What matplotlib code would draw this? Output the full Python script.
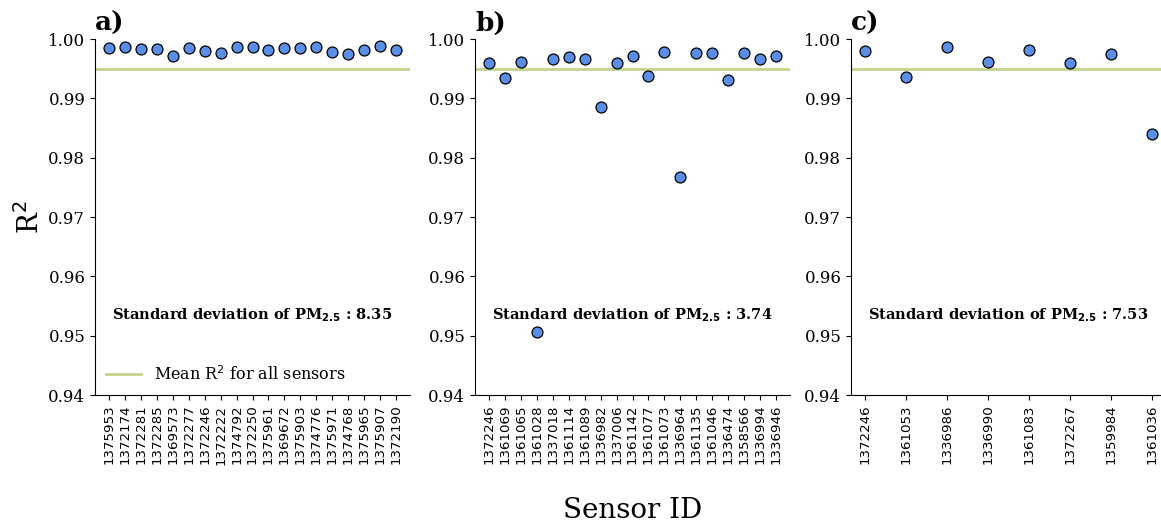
import matplotlib
matplotlib.use("Agg")
import matplotlib.pyplot as plt

# sensor ids and R^2 per panel
ids_a = ["1375953", "1372174", "1372281", "1372285", "1369573", "1372277", "1372246",
         "1372222", "1374792", "1372250", "1375961", "1369672", "1375903", "1374776",
         "1375971", "1374768", "1375965", "1375907", "1372190"]
r2_a = [0.9985, 0.9986, 0.9983, 0.9983, 0.9971, 0.9984, 0.9980, 0.9976, 0.9986, 0.9987,
        0.9981, 0.9984, 0.9984, 0.9986, 0.9978, 0.9974, 0.9982, 0.9988, 0.9981]

ids_b = ["1372246", "1361069", "1361065", "1361028", "1337018", "1361114", "1361089",
         "1336982", "1337006", "1361142", "1361077", "1361073", "1336964", "1361135",
         "1361046", "1336474", "1358566", "1336994", "1336946"]
r2_b = [0.9960, 0.9935, 0.9962, 0.9507, 0.9967, 0.9970, 0.9967, 0.9885, 0.9960, 0.9971,
        0.9938, 0.9978, 0.9767, 0.9977, 0.9977, 0.9931, 0.9976, 0.9967, 0.9971]

ids_c = ["1372246", "1361053", "1336986", "1336990", "1361083", "1372267", "1359984", "1361036"]
r2_c = [0.9979, 0.9936, 0.9986, 0.9961, 0.9982, 0.9960, 0.9974, 0.9840]

panel_labels = ["a)", "b)", "c)"]
std_pm = ["8.35", "3.74", "7.53"]
mean_r2 = 0.995

fig = plt.figure(figsize=(11.61, 5.25), dpi=100)
lefts = [95, 475, 851]
axes = [fig.add_axes([l / 1161, 130 / 525, 315 / 1161, 356 / 525]) for l in lefts]

for ax, ids, vals, lab, sd in zip(axes, [ids_a, ids_b, ids_c], [r2_a, r2_b, r2_c],
                                  panel_labels, std_pm):
    x = list(range(len(ids)))
    ax.scatter(x, vals, s=62, color="#5b8ee6", edgecolor="black", linewidth=0.9, zorder=3)
    ax.axhline(mean_r2, color="#c3d38e", lw=2, label="Mean R$^2$ for all sensors", zorder=2)
    ax.set_ylim(0.94, 1.0)
    ax.set_yticks([0.94, 0.95, 0.96, 0.97, 0.98, 0.99, 1.00])
    ax.set_yticklabels(["%.2f" % v for v in ax.get_yticks()], family="DejaVu Serif", fontsize=12)
    ax.set_xticks(x)
    ax.set_xticklabels(ids, rotation=90, family="DejaVu Sans", fontsize=9.6)
    ax.spines["top"].set_visible(False)
    ax.spines["right"].set_visible(False)
    ax.text(0.0, 1.01, lab, transform=ax.transAxes, family="DejaVu Serif",
            fontweight="bold", fontsize=19, va="bottom", ha="left")
    ax.text(0.5, 0.225, "Standard deviation of PM$_{\\mathbf{2.5}}$ : " + sd, transform=ax.transAxes,
            family="DejaVu Serif", fontweight="bold", fontsize=10.5, ha="center", va="center")

axes[0].legend(loc="lower left", frameon=False, prop={"family": "DejaVu Serif", "size": 11.5},
               handlelength=2.2, borderaxespad=0.3)
axes[0].set_ylabel("R$^2$", family="DejaVu Serif", fontsize=20, labelpad=2)
fig.text(633 / 1161, 1 - 510 / 525, "Sensor ID", family="DejaVu Serif", fontsize=20,
         ha="center", va="center")

fig.savefig("out.png", dpi=100)
